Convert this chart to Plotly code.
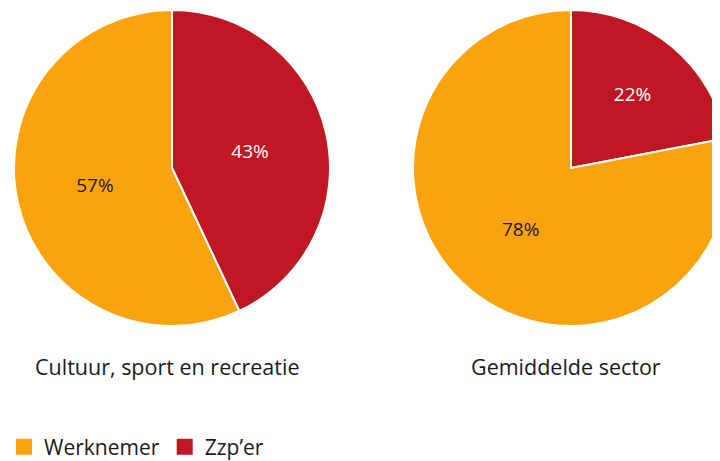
import plotly.graph_objects as go

categories = ["Zzp’er", "Werknemer"]
values_cultuur = [43, 57]
values_gemiddeld = [22, 78]
titles = ["Cultuur, sport en recreatie", "Gemiddelde sector"]
legend_labels = ["Werknemer", "Zzp’er"]

color_orange = "#FBA30F"
color_red = "#BF1723"
font_family = "Open Sans"
text_dark = "#1a1a1a"

W, H = 740, 461
# page body adds an 8px margin, so positions are shifted by 8px
off = 8

fig = go.Figure()

centers = [172 - off, 571 - off]
cy = 168 - off
half = 158
for vals, cx in zip([values_cultuur, values_gemiddeld], centers):
    fig.add_trace(go.Pie(
        labels=categories,
        values=vals,
        sort=False,
        direction="clockwise",
        marker=dict(colors=[color_red, color_orange], line=dict(color="white", width=2)),
        texttemplate="%{percent:.0%}",
        textposition="inside",
        insidetextorientation="horizontal",
        insidetextfont=dict(color=["white", text_dark], size=19, family=font_family),
        hoverinfo="label+percent",
        showlegend=False,
        domain=dict(x=[(cx - half) / W, (cx + half) / W],
                    y=[1 - (cy + half) / H, 1 - (cy - half) / H]),
    ))

# legend entries with larger square symbols
for name, col in zip(legend_labels, [color_orange, color_red]):
    fig.add_trace(go.Scatter(
        x=[None], y=[None], mode="markers", name=name,
        marker=dict(symbol="square", size=18, color=col),
    ))

for title, tx in zip(titles, [167 - off, 566 - off]):
    fig.add_annotation(
        text=title, x=tx / W, y=1 - (366 - off) / H, xref="paper", yref="paper",
        xanchor="center", yanchor="middle", showarrow=False,
        font=dict(size=21.5, color=text_dark, family=font_family),
    )

fig.update_xaxes(visible=False)
fig.update_yaxes(visible=False)
fig.update_layout(
    width=W,
    height=H,
    margin=dict(l=0, r=0, t=0, b=0, autoexpand=False),
    paper_bgcolor="white",
    plot_bgcolor="white",
    font=dict(family=font_family, color=text_dark),
    legend=dict(
        orientation="h", x=-4 / W, y=1 - (447 - off) / H, xanchor="left", yanchor="middle",
        itemsizing="trace",
        font=dict(size=21, family=font_family, color=text_dark),
    ),
)

fig.write_html("out.html")
